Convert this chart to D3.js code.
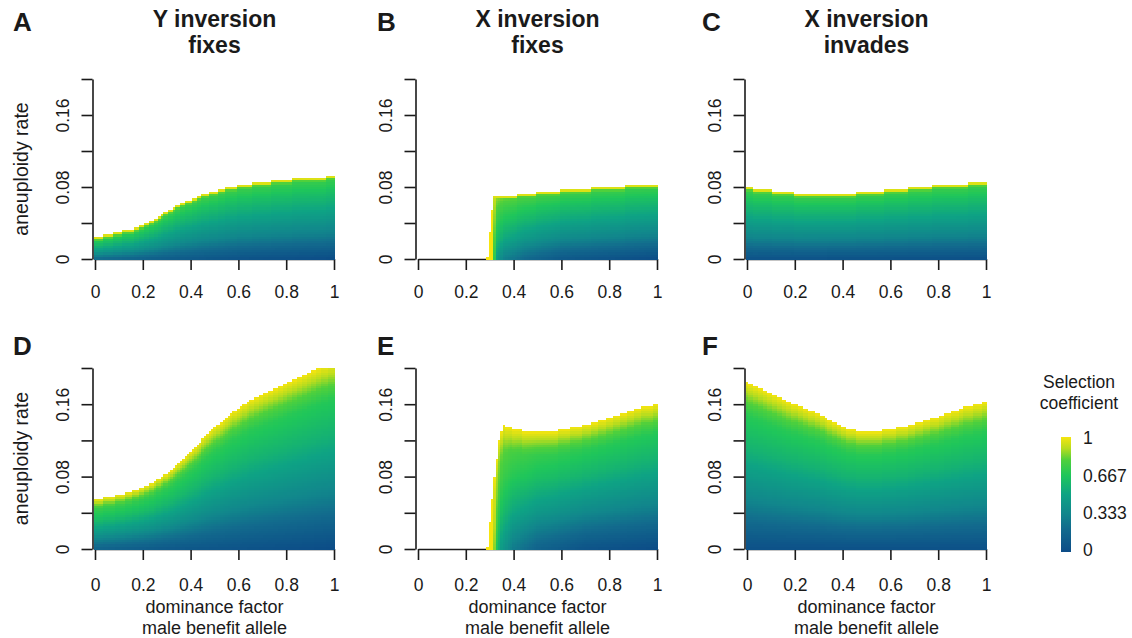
<!DOCTYPE html>
<html>
<head>
<meta charset="utf-8">
<script src="https://cdn.jsdelivr.net/npm/d3@7"></script>
<style>
  html, body { margin: 0; padding: 0; background: #fff; }
  svg { display: block; font-family: "Liberation Sans", Arial, Helvetica, sans-serif; }
</style>
</head>
<body>
<svg id="chart" width="1132" height="638"></svg>
<script>
// Valeurs : seuil d'aneuploïdie (bord supérieur coloré) par facteur de dominance.
const dominance = [0, 0.05, 0.1, 0.15, 0.2, 0.25, 0.3, 0.35, 0.4, 0.45, 0.5, 0.55, 0.6, 0.65, 0.7, 0.75, 0.8, 0.85, 0.9, 0.95, 1];
const dominanceJump = [0, 0.28, 0.29, 0.3, 0.31, 0.32, 0.33, 0.34, 0.35, 0.36, 0.37, 0.4, 0.45, 0.5, 0.55, 0.6, 0.65, 0.7, 0.75, 0.8, 0.85, 0.9, 0.95, 1];

const rateA = [0.0256, 0.0285, 0.0315, 0.034, 0.0389, 0.0452, 0.0544, 0.0619, 0.0674, 0.073, 0.0767, 0.0804, 0.083, 0.0848, 0.0867, 0.0878, 0.0896, 0.0904, 0.0907, 0.0922, 0.0933];
const rateB = [0, 0, 0.0037, 0.03, 0.055, 0.072, 0.0715, 0.0715, 0.0715, 0.0717, 0.0718, 0.072, 0.074, 0.075, 0.0767, 0.0775, 0.0785, 0.0795, 0.0804, 0.0813, 0.0822, 0.083, 0.084, 0.0848];
const rateC = [0.0804, 0.0796, 0.0778, 0.076, 0.0748, 0.0741, 0.0737, 0.0737, 0.074, 0.0748, 0.076, 0.0767, 0.0785, 0.0796, 0.0804, 0.0819, 0.083, 0.084, 0.0848, 0.0852, 0.0856];
const rateD = [0.0564, 0.0582, 0.0611, 0.0645, 0.0692, 0.0759, 0.0847, 0.0958, 0.109, 0.1227, 0.1355, 0.1466, 0.1569, 0.165, 0.1724, 0.1786, 0.1842, 0.19, 0.1963, 0.203, 0.207];
const rateE = [0, 0, 0.004, 0.03, 0.055, 0.08, 0.1, 0.12, 0.13, 0.138, 0.137, 0.1344, 0.1319, 0.1311, 0.1311, 0.133, 0.1355, 0.1385, 0.1418, 0.1459, 0.1503, 0.1547, 0.1584, 0.1606];
const rateF = [0.1853, 0.1797, 0.1731, 0.1668, 0.1613, 0.1558, 0.1503, 0.1436, 0.1363, 0.1326, 0.1311, 0.1319, 0.1337, 0.1363, 0.1392, 0.1436, 0.1473, 0.1521, 0.1569, 0.1602, 0.1632];

// Éclaircissement de la colonne (bas de la colonne) selon la dominance : [dominance, coefficient minimal].
const liftA = [[0, 0.18], [0.3, 0.1], [0.6, 0.04], [1, 0]];
const liftB = [[0.28, 1], [0.31, 1], [0.32, 0.7], [0.33, 0.45], [0.36, 0.3], [0.45, 0.18], [0.6, 0.08], [1, 0]];
const liftC = [[0, 0.04], [1, 0.02]];
const liftD = [[0, 0.15], [0.3, 0.08], [1, 0]];
const liftE = [[0.28, 1], [0.31, 1], [0.32, 0.85], [0.33, 0.65], [0.35, 0.45], [0.4, 0.28], [0.5, 0.15], [0.7, 0.05], [1, 0]];
const liftF = [[0, 0.03], [1, 0.03]];

// Profil vertical du coefficient (fraction de la hauteur de colonne -> coefficient).
const profileFrac = [0, 0.3, 0.6, 0.8, 0.88, 0.94, 0.97, 1];
const profileTop = [0, 0.3, 0.5, 0.62, 0.68, 0.72, 0.78, 1];
const profileBottom = [0, 0.32, 0.56, 0.68, 0.8, 0.9, 0.95, 1];

const panelLetters = ['A', 'B', 'C', 'D', 'E', 'F'];
const panelTitles = [['Y inversion', 'fixes'], ['X inversion', 'fixes'], ['X inversion', 'invades']];
const xTicks = [0, 0.2, 0.4, 0.6, 0.8, 1];
const xTickLabels = ['0', '0.2', '0.4', '0.6', '0.8', '1'];
const yTicks = [0, 0.04, 0.08, 0.12, 0.16, 0.2];
const yTickLabels = ['0', '', '0.08', '', '0.16', ''];
const legendTicks = [0, 0.333, 0.667, 1];
const legendLabels = ['0', '0.333', '0.667', '1'];
const colorStops = [0, 0.2, 0.333, 0.5, 0.667, 0.8, 0.9, 1];
const colorHex = ['#0c4c87', '#126a8d', '#11868c', '#0ea384', '#1fc65a', '#4fd03c', '#b6dc1f', '#f6e50f'];

const panels = [
  { xs: dominance, ys: rateA, lift: liftA },
  { xs: dominanceJump, ys: rateB, lift: liftB },
  { xs: dominance, ys: rateC, lift: liftC },
  { xs: dominance, ys: rateD, lift: liftD },
  { xs: dominanceJump, ys: rateE, lift: liftE },
  { xs: dominance, ys: rateF, lift: liftF }
];

const W = 1132, H = 638;
const colLeft = [95, 418, 747];
const plotW = 239;
const rowBottom = [259, 549];
const rowTop = [79, 368];
const letterX = [13, 377, 702];
const letterY = [31, 355];
const tickLabelOffset = [33, 36];
const ink = '#1a1a1a';
const dy = 0.0025;

const svg = d3.select('#chart');
const color = d3.scaleLinear().domain(colorStops).range(colorHex).interpolate(d3.interpolateRgb).clamp(true);

const canvas = document.createElement('canvas');
canvas.width = W;
canvas.height = H;
const ctx = canvas.getContext('2d');

const axisLayer = svg.append('g');
const heatLayer = svg.append('g');
const textLayer = svg.append('g');

panels.forEach((p, k) => {
  const col = k % 3;
  const row = Math.floor(k / 3);
  const x = d3.scaleLinear().domain([0, 1]).range([colLeft[col], colLeft[col] + plotW]);
  const y = d3.scaleLinear().domain([0, 0.2]).range([rowBottom[row], rowTop[row]]);
  const edge = d3.scaleLinear().domain(p.xs).range(p.ys).clamp(true);
  const lift = d3.scaleLinear().domain(p.lift.map((d) => d[0])).range(p.lift.map((d) => d[1])).clamp(true);
  const profile = d3.scaleLinear().domain(profileFrac).range(row ? profileBottom : profileTop).clamp(true);

  // Heatmap : colonnes de 0.01 en dominance, lignes de 0.0025 en taux.
  d3.range(101).forEach((i) => {
    const xi = i / 100;
    const b = edge(xi);
    const nRows = Math.floor(b / dy + 1e-6);
    if (nRows < 1) return;
    const x0 = Math.round(x(xi - 0.005));
    const x1 = Math.round(x(xi + 0.005));
    const l = lift(xi);
    for (let j = 0; j < nRows; j++) {
      if ((j + 1) * dy > 0.2 + 1e-9) break;
      const frac = ((j + 0.5) * dy) / (nRows * dy);
      let v = l + (1 - l) * profile(frac);
      if (row === 0 && j === nRows - 1) v = Math.max(v, 0.96);
      if (row === 0 && j === nRows - 2) v = Math.max(v, 0.8);
      const y0 = Math.round(y((j + 1) * dy));
      const y1 = j === 0 ? Math.round(y(0)) + 1 : Math.round(y(j * dy));
      ctx.fillStyle = color(v);
      ctx.fillRect(x0, y0, x1 - x0, y1 - y0);
    }
  });

  // Axes
  const gx = axisLayer.append('g')
    .attr('transform', `translate(0,${rowBottom[row]})`)
    .call(d3.axisBottom(x).tickValues(xTicks).tickSize(11).tickSizeOuter(0).tickFormat((d, i) => xTickLabels[i]));
  const gy = axisLayer.append('g')
    .attr('transform', `translate(${colLeft[col] - 2.5},0)`)
    .call(d3.axisLeft(y).tickValues(yTicks).tickSize(11).tickSizeOuter(0).tickFormat((d, i) => yTickLabels[i]));

  [gx, gy].forEach((g) => {
    g.select('.domain').attr('stroke', ink).attr('stroke-width', 1.6);
    g.selectAll('.tick line').attr('stroke', ink).attr('stroke-width', 1.6);
    g.selectAll('.tick text').attr('fill', ink).attr('font-size', 17.5).attr('font-family', null);
  });
  gx.selectAll('.tick text')
    .attr('y', tickLabelOffset[row])
    .attr('dy', '0.36em');
  gy.selectAll('.tick text')
    .attr('transform', 'rotate(-90)')
    .attr('x', 0)
    .attr('y', -29.5)
    .attr('dy', '0.36em')
    .attr('text-anchor', 'middle');

  // Lettre du panneau
  textLayer.append('text')
    .attr('x', letterX[col])
    .attr('y', letterY[row])
    .attr('font-size', 26)
    .attr('font-weight', 'bold')
    .attr('fill', ink)
    .text(panelLetters[k]);

  const cx = x(0.5);
  if (row === 0) {
    panelTitles[col].forEach((t, li) => {
      textLayer.append('text')
        .attr('x', cx)
        .attr('y', 27 + li * 25.5)
        .attr('text-anchor', 'middle')
        .attr('font-size', 23)
        .attr('font-weight', 'bold')
        .attr('fill', ink)
        .text(t);
    });
  } else {
    ['dominance factor', 'male benefit allele'].forEach((t, li) => {
      textLayer.append('text')
        .attr('x', cx)
        .attr('y', 613 + li * 21)
        .attr('text-anchor', 'middle')
        .attr('font-size', 18)
        .attr('fill', ink)
        .text(t);
    });
  }
  if (col === 0) {
    const cy = (rowTop[row] + rowBottom[row]) / 2;
    textLayer.append('text')
      .attr('transform', `translate(21,${cy}) rotate(-90)`)
      .attr('text-anchor', 'middle')
      .attr('dy', '0.35em')
      .attr('font-size', 19.5)
      .attr('fill', ink)
      .text('aneuploidy rate');
  }
});

heatLayer.append('image')
  .attr('x', 0)
  .attr('y', 0)
  .attr('width', W)
  .attr('height', H)
  .attr('href', canvas.toDataURL());

// Légende
const legendY = d3.scaleLinear().domain([0, 1]).range([550, 438]);
const grad = svg.append('defs').append('linearGradient')
  .attr('id', 'legend-grad')
  .attr('x1', 0).attr('y1', 1).attr('x2', 0).attr('y2', 0);
grad.selectAll('stop')
  .data(colorStops)
  .join('stop')
  .attr('offset', (d) => d)
  .attr('stop-color', (d, i) => colorHex[i]);

textLayer.append('rect')
  .attr('x', 1061)
  .attr('y', legendY(1) - 1)
  .attr('width', 10)
  .attr('height', legendY(0) - legendY(1) + 3)
  .attr('fill', 'url(#legend-grad)');

textLayer.selectAll('.legend-label')
  .data(legendTicks)
  .join('text')
  .attr('class', 'legend-label')
  .attr('x', 1083)
  .attr('y', (d) => legendY(d))
  .attr('dy', '0.36em')
  .attr('font-size', 17.5)
  .attr('fill', ink)
  .text((d, i) => legendLabels[i]);

['Selection', 'coefficient'].forEach((t, li) => {
  textLayer.append('text')
    .attr('x', 1079)
    .attr('y', 388 + li * 21)
    .attr('text-anchor', 'middle')
    .attr('font-size', 17.5)
    .attr('fill', ink)
    .text(t);
});
</script>
</body>
</html>
